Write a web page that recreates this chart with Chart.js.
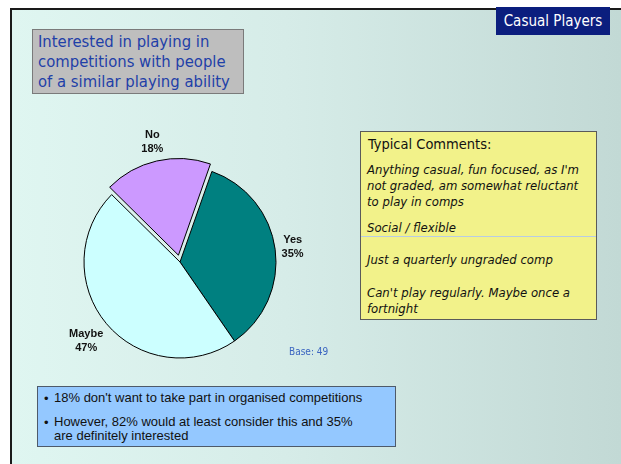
<!DOCTYPE html>
<html>
<head>
<meta charset="utf-8">
<script src="https://cdn.jsdelivr.net/npm/chart.js@4.4.0/dist/chart.umd.min.js"></script>
<style>
  html, body { margin: 0; padding: 0; background: #fff; }
  #page { position: relative; width: 621px; height: 464px; overflow: hidden; }
  #frame {
    position: absolute; left: 10px; top: 8px; width: 609px; height: 454px;
    border: 2px solid #1a1a1a;
    background: linear-gradient(to right, #dff6f1 0%, #d6ece8 45%, #c2d9d5 100%);
  }
  .tahoma { font-family: "DejaVu Sans Condensed", "DejaVu Sans", sans-serif; font-stretch: condensed; }
  #tag {
    position: absolute; left: 496px; top: 7px; width: 114px; height: 28px;
    background: #0b1e7e; color: #fff; font-size: 15px; line-height: 28px; text-align: center;
  }
  #title {
    position: absolute; left: 32px; top: 29px; width: 212px; height: 65px;
    background: #bebebe; border: 1px solid #7a7a7a; box-sizing: border-box;
    color: #1f40a8; font-size: 16.5px; line-height: 20px; padding: 2px 0 0 5px;
  }
  #pieWrap { position: absolute; left: 40px; top: 102px; width: 280px; height: 320px; }
  #base { position: absolute; left: 289px; top: 346px; color: #3a64c0; font-size: 10px; }
  #comments {
    position: absolute; left: 360px; top: 131px; width: 237px; height: 189px;
    background: #f2f28a; border: 1px solid #5a5a5a; box-sizing: border-box;
  }
  #comments .head { position: absolute; left: 7px; top: 4px; font-size: 14.5px; color: #111; }
  #comments .c { position: absolute; left: 6px; font-size: 13px; font-style: italic; line-height: 16px; color: #111; }
  #divider { position: absolute; left: 0; right: 0; top: 104px; height: 1px; background: #b8cce4; }
  #notes {
    position: absolute; left: 37px; top: 386px; width: 359px; height: 61px;
    background: #94c8ff; border: 1px solid #4e5a6a; box-sizing: border-box;
    font-family: "Liberation Sans", Arial, sans-serif; font-size: 13px; color: #111;
  }
  #notes .b { position: absolute; left: 16px; line-height: 14px; }
  #notes .dot { position: absolute; left: 6px; }
</style>
</head>
<body>
<div id="page">
  <div id="frame"></div>
  <div id="tag" class="tahoma">Casual Players</div>
  <div id="title" class="tahoma">Interested in playing in<br>competitions with people<br>of a similar playing ability</div>
  <div id="pieWrap"><canvas id="pie"></canvas></div>
  <div id="base" class="tahoma">Base: 49</div>
  <div id="comments" class="tahoma">
    <div class="head">Typical Comments:</div>
    <div class="c" style="top:30px">Anything casual, fun focused, as I'm<br>not graded, am somewhat reluctant<br>to play in comps</div>
    <div class="c" style="top:88px">Social / flexible</div>
    <div id="divider"></div>
    <div class="c" style="top:120px">Just a quarterly ungraded comp</div>
    <div class="c" style="top:153px">Can't play regularly. Maybe once a<br>fortnight</div>
  </div>
  <div id="notes">
    <div class="dot" style="top:4px">•</div><div class="b" style="top:4px">18% don't want to take part in organised competitions</div>
    <div class="dot" style="top:28px">•</div><div class="b" style="top:28px">However, 82% would at least consider this and 35%<br>are definitely interested</div>
  </div>
</div>
<script>
// data
const categories = ['Yes', 'Maybe', 'No'];
const shares = [35, 47, 18];
const sliceColors = ['#008080', '#ccffff', '#cc99ff'];
const sliceOffsets = [0, 0, 28];   // chart.js v4 moves the arc by offset / 4

// labels outside each slice, name on top and percent under it
const outsideLabels = {
  id: 'outsideLabels',
  afterDatasetsDraw(chart) {
    const ctx = chart.ctx;
    const meta = chart.getDatasetMeta(0);
    ctx.save();
    ctx.font = 'bold 11px "Liberation Sans", Arial, sans-serif';
    ctx.fillStyle = '#111';
    ctx.textAlign = 'center';
    ctx.textBaseline = 'middle';
    meta.data.forEach((arc, i) => {
      const p = arc.getProps(['x', 'y', 'startAngle', 'endAngle', 'outerRadius']);
      const mid = (p.startAngle + p.endAngle) / 2;
      const lines = [categories[i], shares[i] + '%'];
      const w = Math.max(...lines.map(t => ctx.measureText(t).width));
      const h = 26;
      const ext = Math.abs(Math.cos(mid)) * w / 2 + Math.abs(Math.sin(mid)) * h / 2;
      const d = p.outerRadius + sliceOffsets[i] / 4 + 5 + ext;
      const cx = p.x + Math.cos(mid) * d;
      const cy = p.y + Math.sin(mid) * d;
      ctx.fillText(lines[0], cx, cy - 7);
      ctx.fillText(lines[1], cx, cy + 7);
    });
    ctx.restore();
  }
};

new Chart(document.getElementById('pie'), {
  type: 'pie',
  data: {
    labels: categories,
    datasets: [{
      data: shares,
      backgroundColor: sliceColors,
      borderColor: '#000',
      borderWidth: 1,
      offset: sliceOffsets
    }]
  },
  options: {
    responsive: true,
    maintainAspectRatio: false,
    animation: false,
    rotation: 19.4,
    radius: 96,
    layout: { padding: 0 },
    plugins: { legend: { display: false }, tooltip: { enabled: false } }
  },
  plugins: [outsideLabels]
});
</script>
</body>
</html>
